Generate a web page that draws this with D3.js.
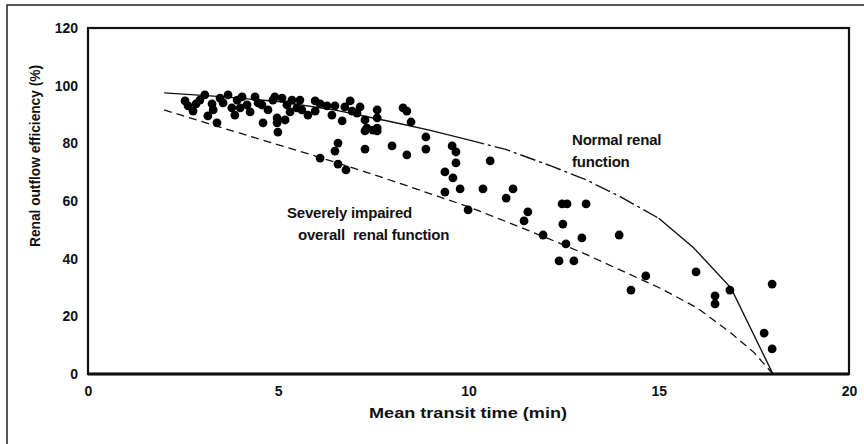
<!DOCTYPE html>
<html>
<head>
<meta charset="utf-8">
<script src="https://cdn.jsdelivr.net/npm/d3@7"></script>
<style>
  html,body{margin:0;padding:0;background:#fff;}
  svg text{font-family:"Liberation Sans",Arial,sans-serif;font-weight:bold;fill:#111;}
</style>
</head>
<body>
<div id="chart"></div>
<script>
// renal outflow efficiency vs mean transit time
const xTicks = [0, 5, 10, 15, 20];
const yTicks = [0, 20, 40, 60, 80, 100, 120];

// "Normal renal function" curve
const normalX = [2, 3.5, 5, 6.5, 8, 9, 10, 11, 12.2, 13.1, 14, 15, 15.9, 16.9, 18];
const normalY = [97.5, 96.2, 94.5, 91.5, 87.4, 84.5, 81.2, 77.8, 72, 67.3, 61.4, 54, 44, 29.8, 0];

// "Severely impaired overall renal function" curve
const impairedX = [2, 3, 4, 5, 6, 7, 8, 9, 10, 11, 12, 13, 14, 15, 16, 16.9, 17.5, 18];
const impairedY = [91.6, 87.5, 83.5, 79.5, 75.5, 71.3, 67, 62.5, 58, 52.8, 47.5, 42, 36, 30, 23, 14.2, 7.5, 0];

// patient observations
const obsX = [2.55, 2.63, 2.76, 2.84, 3.07, 3.15, 3.39, 3.68, 3.55, 3.86, 3.92, 4.18, 4.26, 4.47, 4.60, 4.73, 4.86, 4.91,
  5.10, 4.97, 4.97, 4.99, 5.18, 5.23, 5.57, 5.49, 5.62, 5.78, 5.97, 5.97, 6.28, 6.49, 6.41, 6.68, 6.89, 6.94, 7.07,
  7.28, 7.33, 7.28, 7.49, 7.60, 7.60, 7.60, 7.60, 8.28, 8.38, 8.49, 8.88, 8.88, 8.38, 7.99, 7.28, 6.57, 6.49, 6.10,
  6.57, 6.78, 9.57, 9.67, 9.67, 9.38, 9.59, 10.57, 9.38, 9.78, 10.38, 11.17, 10.99, 9.99, 11.56, 11.46, 11.96, 12.46,
  12.59, 13.09, 12.48, 12.98, 12.56, 13.96, 12.38, 12.77, 14.66, 14.27, 15.98, 16.48, 16.48, 16.87, 17.98, 17.77, 17.98,
  2.94, 3.26, 3.47, 3.78, 4.05, 4.39, 4.57, 4.0, 5.31, 5.36, 6.10, 6.75, 7.15, 3.29];
const obsY = [94.7, 93.0, 91.2, 93.7, 96.8, 89.5, 87.1, 96.8, 94.0, 89.8, 95.0, 93.3, 90.9, 94.0, 87.1, 91.6, 95.0, 96.1,
  95.7, 88.8, 87.1, 83.9, 88.1, 93.3, 95.0, 92.3, 91.6, 89.8, 94.7, 91.2, 93.0, 93.0, 89.8, 87.8, 94.7, 91.2, 90.5,
  88.1, 85.3, 84.3, 84.6, 91.6, 88.8, 85.3, 84.3, 92.3, 91.2, 87.4, 82.2, 78.0, 76.0, 79.1, 78.0, 80.1, 77.3, 74.9,
  72.8, 70.8, 79.1, 77.0, 73.2, 70.1, 68.0, 73.9, 63.1, 64.2, 64.2, 64.2, 61.0, 56.9, 56.2, 53.1, 48.2, 59.0,
  59.0, 59.0, 52.0, 47.2, 45.1, 48.2, 39.2, 39.2, 34.0, 29.1, 35.4, 27.1, 24.3, 29.1, 31.2, 14.2, 8.7,
  95.0, 93.7, 95.7, 92.3, 96.1, 96.1, 93.3, 92.3, 90.9, 95.0, 93.7, 92.6, 92.6, 91.6];

const W = 864, H = 444;
const m = {l: 88, t: 28, r: 15, b: 70};
const svg = d3.select('#chart').append('svg').attr('width', W).attr('height', H);

// outer figure frame
svg.append('path').attr('d', `M7,${H}V5H${W}`).attr('fill', 'none').attr('stroke', '#222').attr('stroke-width', 1.5);

const x = d3.scaleLinear().domain([0, 20]).range([m.l, W - m.r]);
const y = d3.scaleLinear().domain([0, 120]).range([H - m.b, m.t]);

// plot box, heavier along the bottom
svg.append('rect').attr('x', x(0)).attr('y', y(120)).attr('width', x(20) - x(0)).attr('height', y(0) - y(120))
  .attr('fill', 'none').attr('stroke', '#111').attr('stroke-width', 2.2);
svg.append('line').attr('x1', x(0)).attr('x2', x(20)).attr('y1', y(0)).attr('y2', y(0))
  .attr('stroke', '#111').attr('stroke-width', 3);

const xa = svg.append('g').attr('transform', `translate(0,${y(0) + 9})`)
  .call(d3.axisBottom(x).tickValues(xTicks).tickSize(0).tickFormat(d3.format('d')));
xa.select('.domain').remove();
xa.selectAll('text').attr('font-size', 14);

const ya = svg.append('g').attr('transform', `translate(${x(0) - 7},0)`)
  .call(d3.axisLeft(y).tickValues(yTicks).tickSize(0).tickFormat(d3.format('d')));
ya.select('.domain').remove();
ya.selectAll('text').attr('font-size', 14);

// axis titles
svg.append('text').attr('x', 468).attr('y', 418).attr('text-anchor', 'middle').attr('font-size', 15)
  .attr('textLength', 198).attr('lengthAdjust', 'spacingAndGlyphs').text('Mean transit time (min)');
svg.append('text').attr('transform', 'translate(40,156) rotate(-90)').attr('text-anchor', 'middle').attr('font-size', 14)
  .attr('textLength', 182).attr('lengthAdjust', 'spacingAndGlyphs').text('Renal outflow efficiency (%)');

const line = d3.line().x(d => x(d[0])).y(d => y(d[1]));
const normal = normalX.map((v, i) => [v, normalY[i]]);
const impaired = impairedX.map((v, i) => [v, impairedY[i]]);

// normal curve: solid, broken into long dashes in the middle stretch
const seg = (a, b) => normal.filter(d => d[0] >= a && d[0] <= b);
svg.append('path').attr('d', line(seg(0, 10))).attr('fill', 'none').attr('stroke', '#111').attr('stroke-width', 1.4);
svg.append('path').attr('d', line(seg(10, 15))).attr('fill', 'none').attr('stroke', '#111').attr('stroke-width', 1.4)
  .attr('stroke-dasharray', '16,4,3,4');
svg.append('path').attr('d', line(seg(15, 20))).attr('fill', 'none').attr('stroke', '#111').attr('stroke-width', 1.4);

// impaired curve: dashed
svg.append('path').attr('d', line(impaired)).attr('fill', 'none').attr('stroke', '#111').attr('stroke-width', 1.3)
  .attr('stroke-dasharray', '8,5');

// observations
svg.append('g').selectAll('circle').data(obsX.map((v, i) => [v, obsY[i]])).join('circle')
  .attr('cx', d => x(d[0])).attr('cy', d => y(d[1])).attr('r', 4.4).attr('fill', '#000');

// curve labels
const lab = (tx, ty, s) => svg.append('text').attr('x', tx).attr('y', ty).attr('font-size', 15)
  .attr('letter-spacing', -0.2).attr('xml:space', 'preserve').text(s);
lab(572, 145, 'Normal renal');
lab(572, 167, 'function');
lab(287, 218, 'Severely impaired');
lab(298, 240, 'overall  renal function');
</script>
</body>
</html>
